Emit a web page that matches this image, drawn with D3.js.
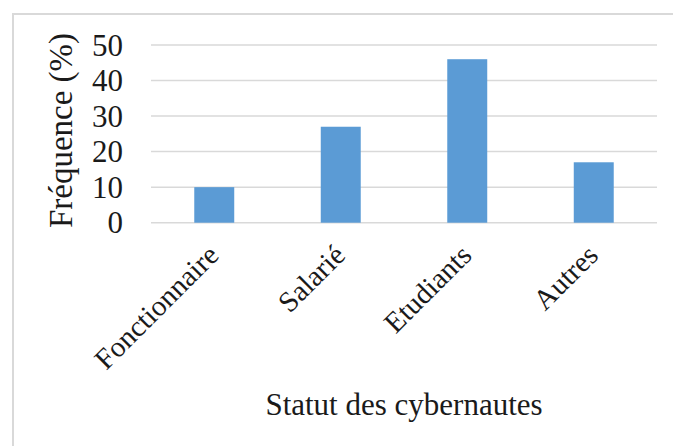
<!DOCTYPE html>
<html>
<head>
<meta charset="utf-8">
<script src="https://cdn.jsdelivr.net/npm/d3@7"></script>
<style>
  html, body { margin: 0; padding: 0; background: #fff; }
  text { font-family: 'Liberation Serif', 'Times New Roman', serif; fill: #1a1a1a; }
</style>
</head>
<body>
<div id="chart"></div>
<script>
const categories = ['Fonctionnaire', 'Salarié', 'Etudiants', 'Autres'];
const values = [10, 27, 46, 17];
const yTicks = [0, 10, 20, 30, 40, 50];
const yTitle = 'Fréquence (%)';
const xTitle = 'Statut des cybernautes';

const width = 673;
const height = 446;
const plot = { left: 151, right: 657, top: 45, bottom: 222.7 };
const barColor = '#5b9bd5';
const gridColor = '#d9d9d9';

const svg = d3.select('#chart').append('svg')
  .attr('width', width)
  .attr('height', height);

// outer frame (only left and top edges are visible in the picture)
svg.append('rect')
  .attr('x', 13)
  .attr('y', 14)
  .attr('width', width + 20)
  .attr('height', height + 20)
  .attr('fill', 'none')
  .attr('stroke', gridColor)
  .attr('stroke-width', 2);

const x = d3.scaleBand()
  .domain(categories)
  .range([plot.left, plot.right])
  .paddingInner(0.684)
  .paddingOuter(0.342);

const y = d3.scaleLinear()
  .domain([0, 50])
  .range([plot.bottom, plot.top]);

// gridlines
svg.append('g')
  .selectAll('line')
    .data(yTicks)
    .enter().append('line')
    .attr('x1', plot.left)
    .attr('x2', plot.right)
    .attr('y1', d => y(d))
    .attr('y2', d => y(d))
    .attr('stroke', gridColor)
    .attr('stroke-width', 1.5);

// y tick labels
svg.append('g')
  .selectAll('text')
    .data(yTicks)
    .enter().append('text')
    .attr('x', 123)
    .attr('y', d => y(d))
    .attr('dy', '0.34em')
    .attr('text-anchor', 'end')
    .style('font-size', '31px')
    .text(d => d);

// bars
svg.append('g')
  .selectAll('rect')
    .data(values)
    .enter().append('rect')
    .attr('x', (d, i) => x(categories[i]))
    .attr('width', x.bandwidth())
    .attr('y', d => y(d))
    .attr('height', d => y(0) - y(d))
    .attr('fill', barColor);

// category labels, rotated
svg.append('g')
  .selectAll('text')
    .data(categories)
    .enter().append('text')
    .attr('transform', d => `translate(${x(d) + x.bandwidth() / 2 + 6},257) rotate(-45)`)
    .attr('text-anchor', 'end')
    .style('font-size', '29px')
    .text(d => d);

// axis titles
svg.append('text')
  .attr('transform', `translate(72,${(28 + 233) / 2}) rotate(-90)`)
  .attr('text-anchor', 'middle')
  .style('font-size', '33px')
  .text(yTitle);

svg.append('text')
  .attr('x', (plot.left + plot.right) / 2)
  .attr('y', 415)
  .attr('text-anchor', 'middle')
  .style('font-size', '31px')
  .text(xTitle);
</script>
</body>
</html>
